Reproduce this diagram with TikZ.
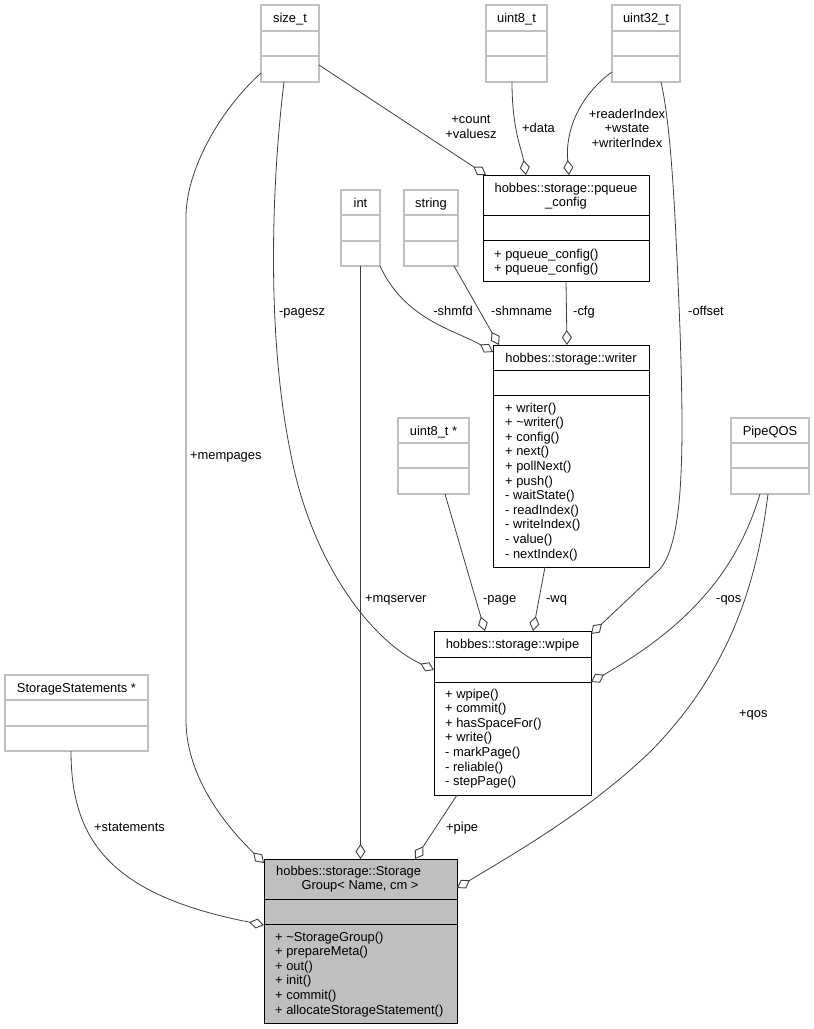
\documentclass[tikz,border=0pt]{standalone}
\usepackage{fontspec}
\setmainfont{Liberation Sans}
\usetikzlibrary{arrows.meta}
\definecolor{DoxEdge}{RGB}{64,64,64}
\definecolor{DoxLight}{RGB}{191,191,191}
\definecolor{DoxFill}{RGB}{191,191,191}
\newcommand{\dfont}{\fontsize{12.9}{14.5}\selectfont}
\tikzset{
  box/.style={draw=black, line width=0.9pt, inner sep=0pt, outer sep=0pt},
  extbox/.style={draw=DoxLight, line width=1.3pt, inner sep=0pt, outer sep=0pt},
  groupbox/.style={box, fill=DoxFill},
  title/.style={anchor=base, inner sep=0pt},
  member/.style={anchor=base west, inner sep=0pt},
  elabel/.style={inner sep=0pt},
  aggr/.style={draw=DoxEdge, line width=0.8pt, -{Diamond[length=15pt,width=10pt,fill=white,line width=0.9pt]}}
}
% #2 name, #3 left, #4 top, #5 right, #6 first rule, #7 second rule, #8 bottom
\newcommand{\classbox}[8][]{
    \node[#1, minimum width={#5-#3}, minimum height={#8-#4}] (#2) at ({(#3+#5)/2},{(#4+#8)/2}) {};
    \draw[#1] (#3,#6) -- (#5,#6) (#3,#7) -- (#5,#7);
}
% #1 name, #2 x, #3 first baseline, #4 list
\newcommand{\members}[4]{
    \foreach \m [count=\i] in {#4}
        \node[member] (#1-\i) at (#2,{#3+14.6*(\i-1)}) {\m};
}

\begin{document}
\begin{tikzpicture}[x=1pt, y=-1pt, font=\dfont]
\useasboundingbox (0,0) rectangle (814,1029);
%Types
\classbox[extbox]{sizet}{261}{5}{319}{31}{56}{82}
\node[title] (sizet-t) at (290,22) {size\_t};
\classbox[extbox]{ueight}{486}{5}{547}{31}{56}{82}
\node[title] (ueight-t) at (516.5,22) {uint8\_t};
\classbox[extbox]{uthirtytwo}{612}{5}{680}{31}{56}{82}
\node[title] (uthirtytwo-t) at (646,22) {uint32\_t};
\classbox[extbox]{int}{341}{190}{380}{215}{241}{266}
\node[title] (int-t) at (360.5,207) {int};
\classbox[extbox]{string}{404}{190}{458}{215}{241}{266}
\node[title] (string-t) at (431,207) {string};
\classbox[extbox]{ueightptr}{398}{418}{469}{443}{468}{494}
\node[title] (ueightptr-t) at (433.5,435) {uint8\_t *};
\classbox[extbox]{pipeqos}{731}{418}{809}{443}{468}{494}
\node[title] (pipeqos-t) at (770,435) {PipeQOS};
\classbox[extbox]{stmts}{5}{675}{148}{700}{726}{751}
\node[title] (stmts-t) at (76.5,692) {StorageStatements *};
%Classes
\classbox[box]{pqueue}{483}{175}{649}{215}{240}{281}
\node[title] (pqueue-t) at (566,192) {hobbes::storage::pqueue};
\node[title] (pqueue-u) at (566,206.5) {\_config};
\members{pqueue}{494}{258}{+ pqueue\_config(), + pqueue\_config()}
\classbox[box]{writer}{493}{345}{649}{370}{395}{567}
\node[title] (writer-t) at (571,362) {hobbes::storage::writer};
\members{writer}{505}{412}{+ writer(), + \textasciitilde writer(), + config(), + next(), + pollNext(), + push(), - waitState(), - readIndex(), - writeIndex(), - value(), - nextIndex()}
\classbox[box]{wpipe}{434}{631}{591}{657}{682}{795}
\node[title] (wpipe-t) at (512.5,648) {hobbes::storage::wpipe};
\members{wpipe}{445}{698}{+ wpipe(), + commit(), + hasSpaceFor(), + write(), - markPage(), - reliable(), - stepPage()}
\classbox[groupbox]{group}{264}{859}{457}{899}{924}{1023}
\node[member] (group-t) at (276,875) {hobbes::storage::Storage};
\node[title] (group-u) at (360,889) {Group< Name, cm >};
\members{group}{275}{941}{+ \textasciitilde StorageGroup(), + prepareMeta(), + out(), + init(), + commit(), + allocateStorageStatement()}
%Edges to pqueue_config
\draw[aggr] ([yshift=17pt]sizet.south east) -- ([xshift=3pt]pqueue.north west);
\node[elabel, align=center] (lcount) at (471,127) {+count\\+valuesz};
\draw[aggr] ([xshift=26pt]ueight.south west) .. controls (512,130) and (522,150) .. ([xshift=43pt]pqueue.north west);
\node[elabel, anchor=base west] (ldata) at (522,132) {+data};
\draw[aggr] ([yshift=10pt]uthirtytwo.south west) .. controls (580,95) and (565,130) .. ([xshift=86pt]pqueue.north west);
\node[elabel, align=center] (lreader) at (627,128) {+readerIndex\\+wstate\\+writerIndex};
%Edges to writer
\draw[aggr] (int.south east) .. controls (405,320) and (455,330) .. ([yshift=-7pt]writer.north west);
\node[elabel, anchor=base east] (lshmfd) at (473,315) {-shmfd};
\draw[aggr] ([xshift=50pt]string.south west) -- ([xshift=6pt]writer.north west);
\node[elabel, anchor=base west] (lshmname) at (491,315) {-shmname};
\draw[aggr] (pqueue.south) -- ([xshift=-4pt]writer.north);
\node[elabel, anchor=base west] (lcfg) at (573,315) {-cfg};
%Edges to wpipe
\draw[aggr] ([xshift=23pt]sizet.south west) .. controls (272,180) and (266,330) .. (290,450) .. controls (310,560) and (370,640) .. ([yshift=-39pt]wpipe.north west);
\node[elabel, anchor=base west] (lpagesz) at (279,315) {-pagesz};
\draw[aggr] ([xshift=49pt]uthirtytwo.south west) .. controls (672,130) and (676,230) .. (680,330) .. controls (684,450) and (684,540) .. (660,569) -- ([yshift=-3pt]wpipe.north east);
\node[elabel, anchor=base west] (loffset) at (688,315) {-offset};
\draw[aggr] ([xshift=47pt]ueightptr.south west) -- ([xshift=51pt]wpipe.north west);
\node[elabel, anchor=base west] (lpage) at (483,602) {-page};
\draw[aggr] ([xshift=52pt]writer.south west) -- ([xshift=99pt]wpipe.north west);
\node[elabel, anchor=base west] (lwq) at (546,602) {-wq};
\draw[aggr] ([xshift=29pt]pipeqos.south west) .. controls (740,560) and (700,620) .. ([yshift=-51pt]wpipe.north east);
\node[elabel, anchor=base west] (lqosw) at (716,602) {-qos};
%Edges to StorageGroup
\draw[aggr] ([yshift=9pt]sizet.south west) .. controls (220,110) and (186,170) .. (186,217) -- (186,720) .. controls (186,780) and (230,830) .. ([yshift=-4pt]group.north west);
\node[elabel, anchor=base west] (lmempages) at (190,459) {+mempages};
\draw[aggr] (int.south) -- (group.north);
\node[elabel, anchor=base west] (lmqserver) at (365,602) {+mqserver};
\draw[aggr] ([xshift=23pt]wpipe.south west) -- ([xshift=151pt]group.north west);
\node[elabel, anchor=base west] (lpipe) at (446,831) {+pipe};
\draw[aggr] ([xshift=37pt]pipeqos.south west) .. controls (755,600) and (720,680) .. (652,750) .. controls (590,810) and (520,850) .. ([yshift=-29pt]group.north east);
\node[elabel, anchor=base west] (lqosg) at (739,717) {+qos};
\draw[aggr] ([xshift=66pt]stmts.south west) .. controls (71,840) and (110,895) .. ([yshift=-66pt]group.north west);
\node[elabel, anchor=base west] (lstatements) at (94,831) {+statements};
\end{tikzpicture}
\end{document}
